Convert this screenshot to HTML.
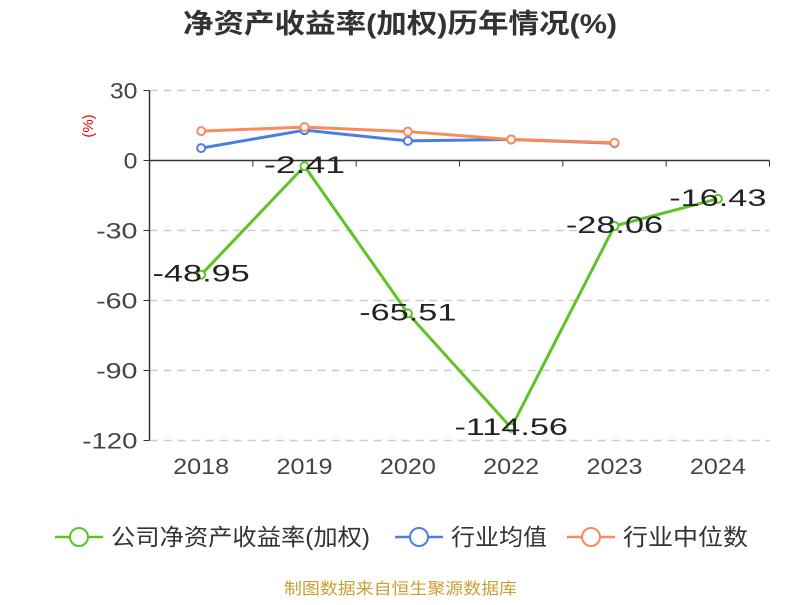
<!DOCTYPE html>
<html><head><meta charset="utf-8"><style>
body{margin:0;background:#fff;font-family:"Liberation Sans","Noto Sans CJK SC",sans-serif}
</style></head><body>
<svg width="800" height="600" xmlns="http://www.w3.org/2000/svg" font-family="'Liberation Sans','Noto Sans CJK SC',sans-serif">
<text x="183" y="33" textLength="434" lengthAdjust="spacingAndGlyphs" font-size="27" font-weight="bold" fill="#333">净资产收益率(加权)历年情况(%)</text>
<text x="93" y="126" text-anchor="middle" font-size="15" fill="#e00" transform="rotate(-90 93 126)">(%)</text>
<g id="grid"></g><g id="axes"></g><g id="series"></g>
<g font-size="23" fill="#333">
<g><line x1="55" y1="537" x2="103" y2="537" stroke="#5ec426" stroke-width="2.5"/><circle cx="79" cy="537" r="9" fill="#fff" stroke="#5ec426" stroke-width="2"/><text x="111" y="545" textLength="259" lengthAdjust="spacingAndGlyphs">公司净资产收益率(加权)</text></g>
<g><line x1="395" y1="537" x2="443" y2="537" stroke="#4a7fe0" stroke-width="2.5"/><circle cx="419" cy="537" r="9" fill="#fff" stroke="#4a7fe0" stroke-width="2"/><text x="451" y="545" textLength="96" lengthAdjust="spacingAndGlyphs">行业均值</text></g>
<g><line x1="567" y1="537" x2="615" y2="537" stroke="#fa8a5a" stroke-width="2.5"/><circle cx="591" cy="537" r="9" fill="#fff" stroke="#fa8a5a" stroke-width="2"/><text x="623" y="545" textLength="125" lengthAdjust="spacingAndGlyphs">行业中位数</text></g>
</g>
<text x="284" y="594" textLength="233" lengthAdjust="spacingAndGlyphs" font-size="16" fill="#c8a030">制图数据来自恒生聚源数据库</text>
</svg>
<script>
const categories=["2018","2019","2020","2022","2023","2024"];
const companyValues=[-48.95,-2.41,-65.51,-114.56,-28.06,-16.43];
const industryAvg=[5.3,13.0,8.4,9.0,7.4];
const industryMedian=[12.6,14.3,12.4,9.0,7.6];
const yTicks=[30,0,-30,-60,-90,-120];
const NS="http://www.w3.org/2000/svg";
const left=149.5,right=769.5,band=(right-left)/categories.length;
const xs=i=>left+band*(i+0.5);
const ys=v=>160.5-(v)*(70/30);
function mk(tag,attrs,parent){const e=document.createElementNS(NS,tag);for(const k in attrs)e.setAttribute(k,attrs[k]);parent.appendChild(e);return e;}
const grid=document.getElementById('grid'),axes=document.getElementById('axes'),ser=document.getElementById('series');
yTicks.forEach(t=>{
 if(t!==0){const l=mk('line',{x1:left,x2:right,y1:ys(t),y2:ys(t),stroke:'#ccc','stroke-dasharray':'8,6','stroke-width':1.5},grid);
 
 }
 const tk=mk('line',{x1:left-6,x2:left,y1:ys(t),y2:ys(t),stroke:'#333'},axes);
 
 
 const s=String(t);
 const tx=mk('text',{x:left-12,y:ys(t)+8,'text-anchor':'end','font-size':22,fill:'#444',textLength:s.length*13.8,lengthAdjust:'spacingAndGlyphs'},axes);tx.textContent=s;
 
 
});
const ya=mk('line',{x1:left,x2:left,y1:ys(30),y2:ys(-120),stroke:'#333','stroke-width':1.5},axes);


const xa=mk('line',{x1:left,x2:right,y1:ys(0),y2:ys(0),stroke:'#333','stroke-width':1.5},axes);


for(let i=0;i<=categories.length;i++){const l=mk('line',{x1:left+band*i,x2:left+band*i,y1:ys(0),y2:ys(0)+6,stroke:'#333'},axes);
 
 }
categories.forEach((c,i)=>{const t=mk('text',{x:xs(i)-28,y:474,'font-size':22,fill:'#444',textLength:56,lengthAdjust:'spacingAndGlyphs'},axes);t.textContent=c;
 
 });
function series(vals,color,name,labels){
 const g=mk('g',{},ser);
 
 
 mk('polyline',{points:vals.map((v,i)=>xs(i)+','+ys(v)).join(' '),fill:'none',stroke:color,'stroke-width':3,'stroke-linejoin':'round'},g);
 vals.forEach((v,i)=>{const c=mk('circle',{cx:xs(i),cy:ys(v),r:4,fill:'#fff',stroke:color,'stroke-width':2},g);
  
  
  if(labels){const s=v.toFixed(2);const w=s.length*16.2;
   const t=mk('text',{x:xs(i)-w/2,y:ys(v)+7,'font-size':24,fill:'#222',textLength:w,lengthAdjust:'spacingAndGlyphs'},g);t.textContent=s;
   
   }});
}
series(industryAvg,'#4a7fe0','industry-avg-line',false);
series(industryMedian,'#fa8a5a','industry-median-line',false);
series(companyValues,'#5ec426','company-line',true);
</script>
</body></html>
